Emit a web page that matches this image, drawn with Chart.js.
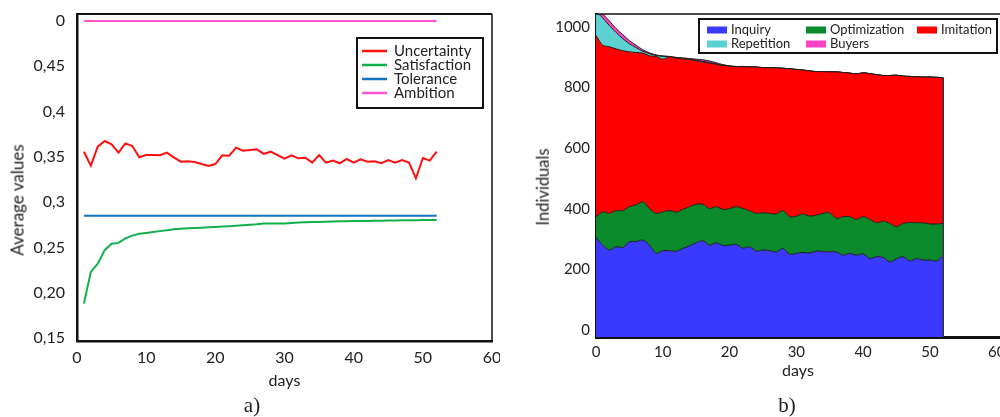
<!DOCTYPE html>
<html>
<head>
<meta charset="utf-8">
<title>Agent averages and population</title>
<script src="https://cdn.jsdelivr.net/npm/chart.js@4.4.0/dist/chart.umd.min.js"></script>
<style>
    html, body { margin: 0; padding: 0; background: #fff; overflow: hidden; }
    body { width: 1000px; height: 417px; position: relative; font-family: Lato, sans-serif; color: #222; }
    canvas { position: absolute; top: 0; }
    #chartA { left: 0; }
    #chartB { left: 500px; }
    .caption { position: absolute; top: 405px; transform: translate(-50%, -50%); font-family: "Liberation Serif", serif; font-size: 21px; line-height: 1; }
    .ytitle { position: absolute; transform: translate(-50%, -50%) rotate(-90deg); white-space: nowrap; line-height: 1; }
</style>
</head>
<body>
<canvas id="chartA" width="500" height="417"></canvas>
<canvas id="chartB" width="520" height="417"></canvas>
<div class="ytitle" style="left:17px; top:200px; font-size:17px;">Average values</div>
<div class="ytitle" style="left:543px; top:187px; font-size:16.5px;">Individuals</div>
<div class="caption" style="left:252px;">a)</div>
<div class="caption" style="left:787px;">b)</div>

<script>
// ==============================
//  DATA - chart a)
// ==============================
const daysA = [1, 2, 3, 4, 5, 6, 7, 8, 9, 10, 11, 12, 13, 14, 15, 16, 17, 18, 19, 20,
    21, 22, 23, 24, 25, 26, 27, 28, 29, 30, 31, 32, 33, 34, 35, 36, 37, 38, 39, 40,
    41, 42, 43, 44, 45, 46, 47, 48, 49, 50, 51, 52];

const uncertainty = [0.3557, 0.3403, 0.3612, 0.3675, 0.3638, 0.3546, 0.3649, 0.3620, 0.3495, 0.3520,
    0.3520, 0.3517, 0.3546, 0.3495, 0.3447, 0.3450, 0.3443, 0.3421, 0.3399, 0.3421,
    0.3517, 0.3513, 0.3601, 0.3568, 0.3576, 0.3583, 0.3532, 0.3557, 0.3520, 0.3480,
    0.3517, 0.3484, 0.3491, 0.3436, 0.3520, 0.3436, 0.3458, 0.3429, 0.3476, 0.3436,
    0.3473, 0.3447, 0.3450, 0.3429, 0.3465, 0.3436, 0.3465, 0.3436, 0.3263, 0.3487,
    0.3458, 0.3557];

const satisfaction = [0.188, 0.223, 0.232, 0.247, 0.254, 0.255, 0.260, 0.263, 0.265, 0.266,
    0.267, 0.268, 0.269, 0.270, 0.2707, 0.2711, 0.2714, 0.2718, 0.2722, 0.2726,
    0.273, 0.2735, 0.274, 0.2745, 0.275, 0.2755, 0.2765, 0.2765, 0.2765, 0.2765,
    0.277, 0.2775, 0.2778, 0.278, 0.2782, 0.2784, 0.2786, 0.2788, 0.279, 0.2791,
    0.2792, 0.2793, 0.2794, 0.2795, 0.2797, 0.2798, 0.2799, 0.28, 0.2801, 0.2802,
    0.2803, 0.2804];

const tolerance = [0.285, 0.285, 0.285, 0.285, 0.285, 0.285, 0.285, 0.285, 0.285, 0.285,
    0.285, 0.285, 0.285, 0.285, 0.285, 0.285, 0.285, 0.285, 0.285, 0.285,
    0.285, 0.285, 0.285, 0.285, 0.285, 0.285, 0.285, 0.285, 0.285, 0.285,
    0.285, 0.285, 0.285, 0.285, 0.285, 0.285, 0.285, 0.285, 0.285, 0.285,
    0.285, 0.285, 0.285, 0.285, 0.285, 0.285, 0.285, 0.285, 0.285, 0.285,
    0.285, 0.285];

const ambition = [0.5, 0.5, 0.5, 0.5, 0.5, 0.5, 0.5, 0.5, 0.5, 0.5,
    0.5, 0.5, 0.5, 0.5, 0.5, 0.5, 0.5, 0.5, 0.5, 0.5,
    0.5, 0.5, 0.5, 0.5, 0.5, 0.5, 0.5, 0.5, 0.5, 0.5,
    0.5, 0.5, 0.5, 0.5, 0.5, 0.5, 0.5, 0.5, 0.5, 0.5,
    0.5, 0.5, 0.5, 0.5, 0.5, 0.5, 0.5, 0.5, 0.5, 0.5,
    0.5, 0.5];

const yTicksA = [0.15, 0.2, 0.25, 0.3, 0.35, 0.4, 0.45, 0.5];
const yTickLabelsA = ["0,15", "0,20", "0,25", "0,3", "0,35", "0,4", "0,45", "0"];
const xTicks = [0, 10, 20, 30, 40, 50, 60];

// ==============================
//  DATA - chart b)
// ==============================
const daysB = [0, 1, 2, 3, 4, 5, 6, 7, 8, 9, 10, 11, 12, 13, 14, 15, 16, 17, 18, 19, 20,
    21, 22, 23, 24, 25, 26, 27, 28, 29, 30, 31, 32, 33, 34, 35, 36, 37, 38, 39, 40,
    41, 42, 43, 44, 45, 46, 47, 48, 49, 50, 51, 52];

const inquiry = [306, 280, 264, 275, 272, 291, 292, 297, 280, 253,
    262, 262, 260, 269, 278, 288, 295, 280, 288, 279,
    280, 283, 270, 275, 261, 264, 262, 258, 269, 250,
    253, 256, 254, 261, 259, 258, 258, 247, 253, 247,
    251, 236, 242, 240, 225, 235, 242, 228, 236, 231,
    231, 228, 247];

const optimization = [68, 110, 121, 119, 122, 116, 121, 126, 121, 132,
    128, 132, 129, 129, 129, 127, 120, 121, 119, 119,
    121, 124, 131, 119, 124, 123, 123, 125, 125, 124,
    123, 127, 122, 118, 126, 129, 110, 127, 121, 118,
    123, 129, 112, 119, 127, 106, 110, 127, 118, 123,
    119, 122, 105];

const imitation = [598, 550, 550, 534, 528, 511, 503, 491, 504, 518,
    504, 508, 508, 497, 486, 474, 469, 480, 470, 475,
    470, 462, 468, 474, 483, 479, 481, 482, 470, 488,
    484, 475, 479, 474, 468, 465, 484, 476, 474, 480,
    475, 481, 489, 481, 488, 500, 486, 482, 482, 481,
    485, 484, 481];

const repetition = [80, 90, 70, 54, 40, 27, 16, 6, 7, 3,
    9, 0, 2, 2, 2, 2, 3, 2, 1, 1,
    0, 0, 1, 1, 0, 0, 0, 0, 0, 0,
    0, 0, 0, 0, 0, 0, 0, 0, 0, 0,
    0, 0, 0, 0, 0, 0, 0, 0, 0, 0,
    0, 0, 0];

const buyers = [10, 13, 15, 13, 13, 10, 8, 5, 3, 2,
    2, 1, 1, 1, 1, 3, 5, 5, 4, 2,
    1, 1, 0, 0, 0, 0, 0, 0, 0, 0,
    0, 0, 0, 0, 0, 0, 0, 0, 0, 0,
    0, 0, 0, 0, 0, 0, 0, 0, 0, 0,
    0, 0, 0];

const yTicksB = [0, 200, 400, 600, 800, 1000];


// ==============================
//  PLUGINS
// ==============================
// boxed legend drawn inside the plot area
const boxLegend = {
    id: "boxLegend",
    afterDraw(chart, args, o) {
        const { ctx, chartArea: a } = chart;
        const x0 = o.left != null ? a.left + o.left : a.right - o.right - o.width;
        const y0 = a.top + o.top;

        ctx.save();
        ctx.fillStyle = "#fff";
        ctx.fillRect(x0, y0, o.width, o.height);
        ctx.lineWidth = 2;
        ctx.strokeStyle = "#111";
        ctx.strokeRect(x0, y0, o.width, o.height);

        ctx.font = o.font;
        ctx.textBaseline = "middle";
        chart.data.datasets.forEach((ds, i) => {
            const col = i % o.colX.length;
            const row = Math.floor(i / o.colX.length);
            const sx = x0 + o.colX[col];
            const sy = y0 + o.rowY[row];
            if (o.sample === "line") {
                ctx.strokeStyle = ds.borderColor;
                ctx.lineWidth = 2.5;
                ctx.beginPath();
                ctx.moveTo(sx, sy);
                ctx.lineTo(sx + o.sampleW, sy);
                ctx.stroke();
            } else {
                ctx.fillStyle = ds.backgroundColor;
                ctx.fillRect(sx, sy - o.sampleH / 2, o.sampleW, o.sampleH);
            }
            ctx.fillStyle = "#222";
            ctx.fillText(ds.label, sx + o.sampleW + o.gap, sy);
        });
        ctx.restore();
    }
};

// top / right frame lines
const frame = {
    id: "frame",
    afterDraw(chart, args, o) {
        const { ctx, chartArea: a } = chart;
        ctx.save();
        ctx.strokeStyle = "#111";
        if (o.top) {
            ctx.lineWidth = o.top;
            ctx.beginPath();
            ctx.moveTo(a.left, a.top);
            ctx.lineTo(a.right, a.top);
            ctx.stroke();
        }
        if (o.right) {
            ctx.lineWidth = o.right;
            ctx.beginPath();
            ctx.moveTo(a.right, a.top);
            ctx.lineTo(a.right, a.bottom);
            ctx.stroke();
        }
        ctx.restore();
    }
};

// closing edge of the stacked area at the last day
const areaEdge = {
    id: "areaEdge",
    afterDatasetsDraw(chart) {
        const n = chart.data.datasets.length;
        const topPts = chart.getDatasetMeta(n - 1).data;
        const last = topPts[topPts.length - 1];
        if (!last) return;
        const { ctx, chartArea: a } = chart;
        ctx.save();
        ctx.strokeStyle = "#333";
        ctx.lineWidth = 1.5;
        ctx.beginPath();
        ctx.moveTo(last.x, Math.max(last.y, a.top));
        ctx.lineTo(last.x, a.bottom);
        ctx.stroke();
        ctx.restore();
    }
};

// keep the plot box where it is, whatever the label sizes
function fixWidth(w) {
    return s => { s.width = w; s.paddingTop = 0; s.paddingBottom = 0; };
}
function fixHeight(h) {
    return s => { s.height = h; s.paddingLeft = 0; s.paddingRight = 0; };
}

const tickFont = { family: "Lato", size: 16 };
const titleFont = { family: "Lato", size: 16 };


// ==============================
//  CHART a)
// ==============================
new Chart(document.getElementById("chartA"), {
    type: "line",
    data: {
        labels: daysA,
        datasets: [
            { label: "Uncertainty", data: uncertainty, borderColor: "#ff1010" },
            { label: "Satisfaction", data: satisfaction, borderColor: "#10b04c" },
            { label: "Tolerance", data: tolerance, borderColor: "#1272c2" },
            { label: "Ambition", data: ambition, borderColor: "#ff55d2" }
        ]
    },
    options: {
        responsive: false,
        animation: false,
        layout: { padding: { top: 14, right: 8, bottom: 27, left: 0 } },
        elements: {
            point: { radius: 0 },
            line: { borderWidth: 2, tension: 0, fill: false }
        },
        plugins: {
            legend: { display: false },
            tooltip: { enabled: false },
            boxLegend: {
                right: 9, top: 24, width: 126, height: 70,
                colX: [5], rowY: [13, 27, 41, 55],
                sample: "line", sampleW: 25, gap: 7,
                font: "15px Lato"
            },
            frame: { top: 2, right: 1.5 }
        },
        scales: {
            x: {
                type: "linear", min: 0, max: 60,
                grid: { display: false, drawTicks: false },
                border: { color: "#111", width: 2.5 },
                afterBuildTicks: s => { s.ticks = xTicks.map(v => ({ value: v })); },
                afterFit: fixHeight(49),
                ticks: { color: "#222", font: tickFont, padding: 7, maxRotation: 0 },
                title: { display: true, text: "days", color: "#222", font: titleFont, padding: 0 }
            },
            y: {
                min: 0.1467, max: 0.5077,
                grid: { display: false, drawTicks: false },
                border: { color: "#111", width: 2.5 },
                afterBuildTicks: s => { s.ticks = yTicksA.map(v => ({ value: v })); },
                afterFit: fixWidth(77),
                ticks: { color: "#222", font: tickFont, padding: 12, callback: (v, i) => yTickLabelsA[i] }
            }
        }
    },
    plugins: [boxLegend, frame]
});


// ==============================
//  CHART b)
// ==============================
new Chart(document.getElementById("chartB"), {
    type: "line",
    data: {
        labels: daysB,
        datasets: [
            { label: "Inquiry", data: inquiry, backgroundColor: "#3a3aff", fill: "start" },
            { label: "Optimization", data: optimization, backgroundColor: "#0b8a2b", fill: "-1" },
            { label: "Imitation", data: imitation, backgroundColor: "#ff0000", fill: "-1" },
            { label: "Repetition", data: repetition, backgroundColor: "#5dd0d2", fill: "-1" },
            { label: "Buyers", data: buyers, backgroundColor: "#ff40c8", fill: "-1" }
        ]
    },
    options: {
        responsive: false,
        animation: false,
        layout: { padding: { top: 14, right: 20, bottom: 37, left: 0 } },
        elements: {
            point: { radius: 0 },
            line: { borderWidth: 1, borderColor: "#1c1c1c", tension: 0.3 }
        },
        plugins: {
            legend: { display: false },
            tooltip: { enabled: false },
            boxLegend: {
                left: 103, top: 5, width: 298, height: 34,
                colX: [8, 107, 218], rowY: [11, 25],
                sample: "box", sampleW: 20, sampleH: 7, gap: 4,
                font: "13px Lato"
            },
            frame: { top: 1.5 }
        },
        scales: {
            x: {
                type: "linear", min: 0, max: 60.5,
                grid: { display: false, drawTicks: false },
                border: { color: "#111", width: 3 },
                afterBuildTicks: s => { s.ticks = xTicks.map(v => ({ value: v })); },
                afterFit: fixHeight(43),
                ticks: { color: "#222", font: { family: "Lato", size: 15 }, padding: 6, maxRotation: 0 },
                title: { display: true, text: "days", color: "#222", font: titleFont, padding: 0 }
            },
            y: {
                stacked: true,
                min: -23, max: 1043,
                grid: { display: false, drawTicks: false },
                border: { color: "#111", width: 3 },
                afterBuildTicks: s => { s.ticks = yTicksB.map(v => ({ value: v })); },
                afterFit: fixWidth(96),
                ticks: { color: "#222", font: { family: "Lato", size: 15 }, padding: 6, callback: v => String(v) }
            }
        }
    },
    plugins: [boxLegend, frame, areaEdge]
});
</script>
</body>
</html>
